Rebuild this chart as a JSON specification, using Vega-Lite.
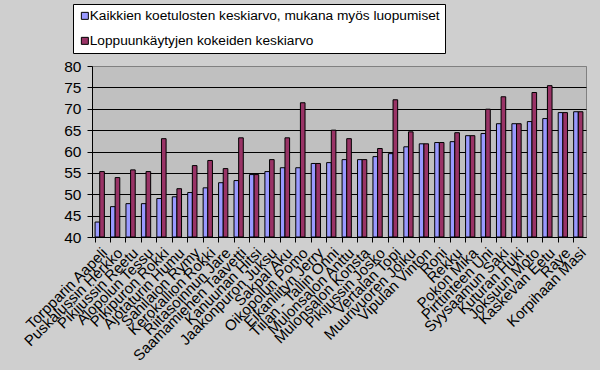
{
  "$schema": "https://vega.github.io/schema/vega-lite/v6.json",
  "width": 494,
  "height": 171,
  "autosize": {"type": "none"},
  "padding": {"left": 92, "top": 66, "right": 14, "bottom": 133},
  "background": "#cfcfcf",
  "config": {
    "font": "Liberation Sans",
    "view": {"fill": "#C0C0C0", "stroke": "#808080", "strokeWidth": 1},
    "axis": {"labelColor": "black", "domainColor": "black", "tickColor": "black", "labelFont": "Liberation Sans"}
  },
  "data": {
    "values": [
      {"name": "Torpparin Aapeli", "Kaikkien koetulosten keskiarvo, mukana myös luopumiset": 43.5, "Loppuunkäytyjen kokeiden keskiarvo": 55.3},
      {"name": "Puskalussin Herkko", "Kaikkien koetulosten keskiarvo, mukana myös luopumiset": 47.1, "Loppuunkäytyjen kokeiden keskiarvo": 53.9},
      {"name": "Pikijussin Reetu", "Kaikkien koetulosten keskiarvo, mukana myös luopumiset": 47.8, "Loppuunkäytyjen kokeiden keskiarvo": 55.7},
      {"name": "Alopolun Tessu", "Kaikkien koetulosten keskiarvo, mukana myös luopumiset": 47.8, "Loppuunkäytyjen kokeiden keskiarvo": 55.3},
      {"name": "Pikipuron Rokki", "Kaikkien koetulosten keskiarvo, mukana myös luopumiset": 49.0, "Loppuunkäytyjen kokeiden keskiarvo": 63.0},
      {"name": "Ajotaturin Humu", "Kaikkien koetulosten keskiarvo, mukana myös luopumiset": 49.4, "Loppuunkäytyjen kokeiden keskiarvo": 51.3},
      {"name": "Sahilaion Rymy", "Kaikkien koetulosten keskiarvo, mukana myös luopumiset": 50.4, "Loppuunkäytyjen kokeiden keskiarvo": 56.7},
      {"name": "Kerokallion Rokki", "Kaikkien koetulosten keskiarvo, mukana myös luopumiset": 51.5, "Loppuunkäytyjen kokeiden keskiarvo": 57.9},
      {"name": "Riitasoinnun Jare", "Kaikkien koetulosten keskiarvo, mukana myös luopumiset": 52.7, "Loppuunkäytyjen kokeiden keskiarvo": 56.0},
      {"name": "Saamamiehen Taavetti", "Kaikkien koetulosten keskiarvo, mukana myös luopumiset": 53.2, "Loppuunkäytyjen kokeiden keskiarvo": 63.2},
      {"name": "Kanuunan Hitsi", "Kaikkien koetulosten keskiarvo, mukana myös luopumiset": 54.6, "Loppuunkäytyjen kokeiden keskiarvo": 54.6},
      {"name": "Jaakonpuron Juksu", "Kaikkien koetulosten keskiarvo, mukana myös luopumiset": 55.3, "Loppuunkäytyjen kokeiden keskiarvo": 58.1},
      {"name": "Sakpal Aku", "Kaikkien koetulosten keskiarvo, mukana myös luopumiset": 56.2, "Loppuunkäytyjen kokeiden keskiarvo": 63.2},
      {"name": "Oikopolun Pomo", "Kaikkien koetulosten keskiarvo, mukana myös luopumiset": 56.2, "Loppuunkäytyjen kokeiden keskiarvo": 71.4},
      {"name": "Eikanliityn Jerry", "Kaikkien koetulosten keskiarvo, mukana myös luopumiset": 57.2, "Loppuunkäytyjen kokeiden keskiarvo": 57.2},
      {"name": "Tiilan - Tallin Onni", "Kaikkien koetulosten keskiarvo, mukana myös luopumiset": 57.4, "Loppuunkäytyjen kokeiden keskiarvo": 65.0},
      {"name": "Mulonsalon Anttu", "Kaikkien koetulosten keskiarvo, mukana myös luopumiset": 58.1, "Loppuunkäytyjen kokeiden keskiarvo": 63.0},
      {"name": "Mulonsalon Konsta", "Kaikkien koetulosten keskiarvo, mukana myös luopumiset": 58.1, "Loppuunkäytyjen kokeiden keskiarvo": 58.1},
      {"name": "Pikijussin Josko", "Kaikkien koetulosten keskiarvo, mukana myös luopumiset": 58.8, "Loppuunkäytyjen kokeiden keskiarvo": 60.7},
      {"name": "Vertalan Topi", "Kaikkien koetulosten keskiarvo, mukana myös luopumiset": 59.5, "Loppuunkäytyjen kokeiden keskiarvo": 72.1},
      {"name": "Muurivuoren Joiku", "Kaikkien koetulosten keskiarvo, mukana myös luopumiset": 61.1, "Loppuunkäytyjen kokeiden keskiarvo": 64.6},
      {"name": "Vipulan Vinton", "Kaikkien koetulosten keskiarvo, mukana myös luopumiset": 61.8, "Loppuunkäytyjen kokeiden keskiarvo": 61.8},
      {"name": "Roni", "Kaikkien koetulosten keskiarvo, mukana myös luopumiset": 62.1, "Loppuunkäytyjen kokeiden keskiarvo": 62.1},
      {"name": "Rekku", "Kaikkien koetulosten keskiarvo, mukana myös luopumiset": 62.3, "Loppuunkäytyjen kokeiden keskiarvo": 64.4},
      {"name": "Pokon Mika", "Kaikkien koetulosten keskiarvo, mukana myös luopumiset": 63.7, "Loppuunkäytyjen kokeiden keskiarvo": 63.7},
      {"name": "Pirttinteen Uni", "Kaikkien koetulosten keskiarvo, mukana myös luopumiset": 64.2, "Loppuunkäytyjen kokeiden keskiarvo": 69.9},
      {"name": "Syysaamun Saki", "Kaikkien koetulosten keskiarvo, mukana myös luopumiset": 66.5, "Loppuunkäytyjen kokeiden keskiarvo": 72.8},
      {"name": "Kuturan Huki", "Kaikkien koetulosten keskiarvo, mukana myös luopumiset": 66.5, "Loppuunkäytyjen kokeiden keskiarvo": 66.5},
      {"name": "Joksuun Moto", "Kaikkien koetulosten keskiarvo, mukana myös luopumiset": 67.0, "Loppuunkäytyjen kokeiden keskiarvo": 73.8},
      {"name": "Kaskevan Eetu", "Kaikkien koetulosten keskiarvo, mukana myös luopumiset": 67.7, "Loppuunkäytyjen kokeiden keskiarvo": 75.4},
      {"name": "Raye", "Kaikkien koetulosten keskiarvo, mukana myös luopumiset": 69.1, "Loppuunkäytyjen kokeiden keskiarvo": 69.1},
      {"name": "Korpihaan Masi", "Kaikkien koetulosten keskiarvo, mukana myös luopumiset": 69.3, "Loppuunkäytyjen kokeiden keskiarvo": 69.3}
    ]
  },
  "transform": [
    {"fold": ["Kaikkien koetulosten keskiarvo, mukana myös luopumiset", "Loppuunkäytyjen kokeiden keskiarvo"], "as": ["series", "value"]}
  ],
  "mark": {"type": "bar", "stroke": "black", "strokeWidth": 1},
  "encoding": {
    "x": {
      "field": "name", "type": "nominal", "sort": null, "title": null,
      "scale": {"paddingInner": 0.4, "paddingOuter": 0.2},
      "axis": {"labelAngle": -45, "bandPosition": 0, "tickSize": 5, "labelFontSize": 15, "labelPadding": 3, "labelLimit": 300, "labelOverlap": false, "grid": false}
    },
    "xOffset": {"field": "series", "type": "nominal", "sort": ["Kaikkien koetulosten keskiarvo, mukana myös luopumiset", "Loppuunkäytyjen kokeiden keskiarvo"]},
    "y": {
      "field": "value", "type": "quantitative", "title": null,
      "scale": {"domain": [40, 80], "zero": false, "nice": false, "clamp": true},
      "axis": {
        "values": [40, 45, 50, 55, 60, 65, 70, 75, 80],
        "tickSize": 5, "labelFontSize": 15.5, "labelPadding": 6,
        "grid": true, "gridWidth": 1,
        "gridColor": {"condition": {"test": "datum.value >= 80", "value": "#808080"}, "value": "black"}
      }
    },
    "color": {
      "field": "series", "type": "nominal",
      "scale": {"domain": ["Kaikkien koetulosten keskiarvo, mukana myös luopumiset", "Loppuunkäytyjen kokeiden keskiarvo"], "range": ["#9999FF", "#993366"]},
      "legend": {
        "title": null, "orient": "none", "legendX": -19, "legendY": -62,
        "direction": "vertical",
        "fillColor": "white", "strokeColor": "black", "padding": 5,
        "symbolType": "square", "symbolSize": 49, "symbolStrokeColor": "black", "symbolStrokeWidth": 1, "symbolOpacity": 1,
        "labelFontSize": 13.7, "labelFont": "Liberation Sans", "labelColor": "black", "labelLimit": 400, "labelOffset": -2,
        "rowPadding": 10
      }
    }
  }
}
